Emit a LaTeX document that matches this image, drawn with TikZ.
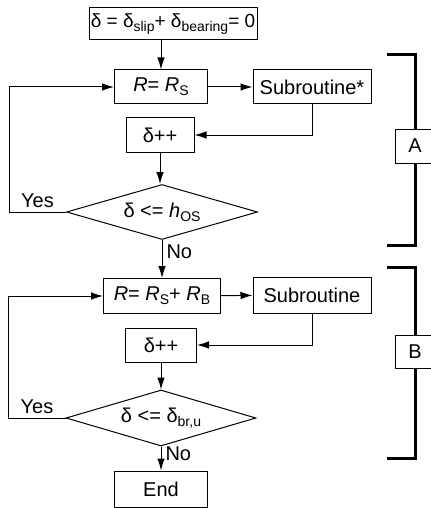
\documentclass[tikz,border=0pt]{standalone}
\usepackage{fontspec}
\setmainfont{Liberation Sans}
\usetikzlibrary{shapes.geometric,arrows.meta}

% lowered small subscript
\newcommand{\lowsub}[1]{\raisebox{-0.35ex}{\fontsize{7}{8}\selectfont #1}}

\begin{document}
\begin{tikzpicture}[x=0.5pt, y=-0.5pt, font=\fontsize{10}{12}\selectfont]

% Fix the size of the whole chart
\useasboundingbox (0,0) rectangle (431,508);

% Define styles for boxes, decisions and lines
\tikzstyle{box} = [draw, rectangle, inner sep=0pt, line width=0.5pt]
\tikzstyle{decision} = [draw, diamond, aspect=3.5, inner sep=0pt, line width=0.5pt]
\tikzstyle{arr} = [-{Latex[length=6pt,width=3.8pt]}, line width=0.5pt]
\tikzstyle{bracket} = [line width=1.5pt]

% Part A
\node[box, minimum width=84pt, minimum height=16pt, font=\fontsize{9.5}{11}\selectfont] (start) at (173,24)
	{δ = δ\lowsub{slip}+ δ\lowsub{bearing}= 0};
\node[box, minimum width=46.5pt, minimum height=17pt] (rs) at (161,87)
	{\textit{R}= \textit{R}\lowsub{S}};
\node[box, minimum width=59pt, minimum height=17pt] (subA) at (312,87)
	{Subroutine*};
\node[box, minimum width=34pt, minimum height=17.5pt] (incA) at (160,135)
	{δ++};
\node[decision, minimum width=95.5pt, minimum height=27.5pt] (decA) at (162,212)
	{δ <= \textit{h}\lowsub{OS}};

% Part B
\node[box, minimum width=58.5pt, minimum height=17.5pt] (rsb) at (162,296)
	{\textit{R}= \textit{R}\lowsub{S}+ \textit{R}\lowsub{B}};
\node[box, minimum width=59pt, minimum height=18pt] (subB) at (312,295)
	{Subroutine};
\node[box, minimum width=35.5pt, minimum height=17pt] (incB) at (161,345)
	{δ++};
\node[decision, minimum width=95pt, minimum height=28pt] (decB) at (161,418)
	{δ <= δ\lowsub{br,u}};
\node[box, minimum width=46.5pt, minimum height=18pt] (stop) at (161,489)
	{End};

% Connectors
\draw[arr] (rs.north |- start.south) -- (rs.north);
\draw[arr] (rs) -- (subA);
\draw[arr] (subA.south) |- (incA.east);
\draw[arr] (incA) -- (incA |- decA.north);
\draw[arr] (decA.west) -- node[above, inner sep=2pt] {Yes} ++(-57,0) |- (rs.west);
\draw[arr] (decA.south) -- node[right, pos=0.3, inner sep=2pt] {No} (decA.south |- rsb.north);
\draw[arr] (rsb) -- (subB);
\draw[arr] (subB.south) |- (incB.east);
\draw[arr] (incB) -- (incB |- decB.north);
\draw[arr] (decB.west) -- node[above, inner sep=2pt] {Yes} ++(-57,0) |- (rsb.west);
\draw[arr] (decB.south) -- node[right, pos=0.3, inner sep=2pt] {No} (decB.south |- stop.north);

% Brackets with labels
\node[box, minimum width=20pt, minimum height=17pt] (labA) at (415,146) {A};
\node[box, minimum width=20pt, minimum height=16.5pt] (labB) at (415,352) {B};
\coordinate (topA) at (387,55);
\coordinate (botA) at (387,245);
\coordinate (topB) at (387,267);
\coordinate (botB) at (387,458);
\draw[bracket] (topA) -| (labA.north);
\draw[bracket] (botA) -| (labA.south);
\draw[bracket] (topB) -| (labB.north);
\draw[bracket] (botB) -| (labB.south);

\end{tikzpicture}
\end{document}
